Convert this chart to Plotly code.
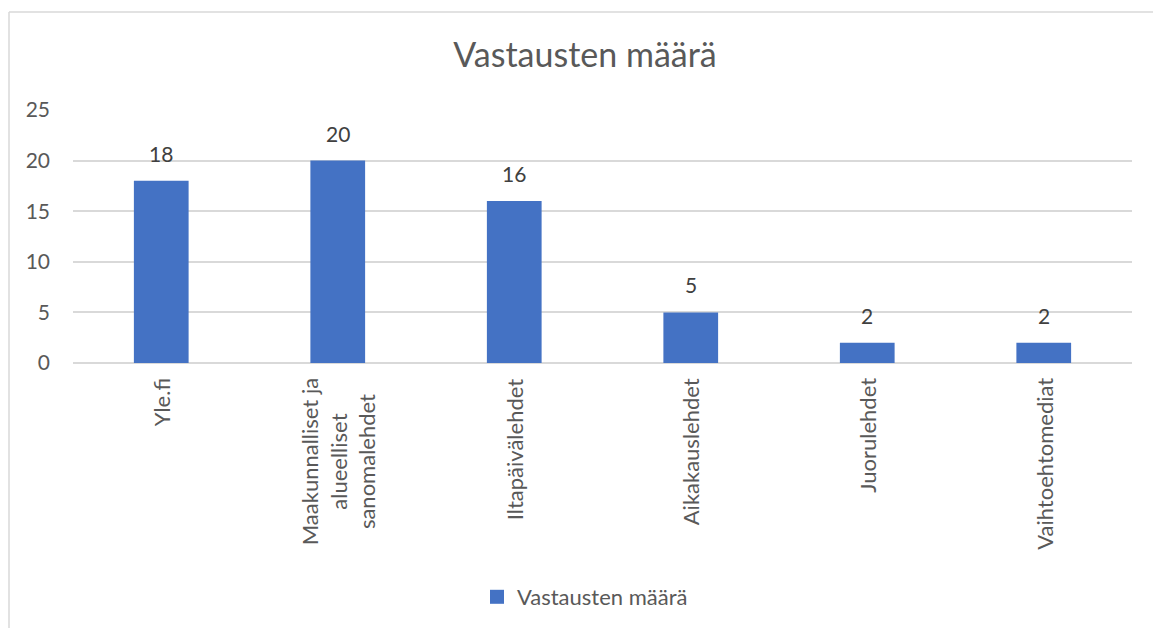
import plotly.graph_objects as go

categories = ["Yle.fi", "Maakunnalliset ja<br>alueelliset<br>sanomalehdet", "Iltapäivälehdet",
              "Aikakauslehdet", "Juorulehdet", "Vaihtoehtomediat"]
values = [18, 20, 16, 5, 2, 2]
series_name = "Vastausten määrä"
title_text = "Vastausten määrä"
y_ticks = [0, 5, 10, 15, 20, 25]

O = 8  # page body offset
W, H = 1161 - O, 628 - O
L, R, T, B = 73 - O, 29, 110 - O, 265
pw = W - L - R
ph = H - T - B

FONT = "Lato"
TXT = "#595959"
BLUE = "#4472C4"

def px_x(p):  # screen px -> paper x
    return (p - O - L) / pw

def px_y(p):  # screen px -> paper y
    return (H - B - (p - O)) / ph

fig = go.Figure()
fig.add_trace(go.Bar(
    x=categories, y=values, name=series_name,
    marker=dict(color=BLUE, line=dict(width=0)),
    showlegend=False,
))
# legend entry with a square swatch like the original
fig.add_trace(go.Scatter(
    x=[None], y=[None], mode="markers", name=series_name,
    marker=dict(symbol="square", size=14, color=BLUE),
    showlegend=True, hoverinfo="skip",
))

for c, v in zip(categories, values):
    fig.add_annotation(x=c, y=v, xref="x", yref="y", text=str(v), showarrow=False,
                       yanchor="bottom", yshift=13,
                       font=dict(family=FONT, size=21, color="#404040"))

for c in categories:
    fig.add_annotation(x=c, y=0, xref="x", yref="y", text=c, showarrow=False,
                       textangle=-90, yanchor="top", xanchor="center", yshift=-13,
                       align="center",
                       font=dict(family=FONT, size=22, color=TXT))

# chart frame (left & top border)
fig.add_shape(type="line", xref="paper", yref="paper",
              x0=px_x(9), x1=px_x(9), y0=px_y(12), y1=px_y(640),
              line=dict(color="#D9D9D9", width=1.5))
fig.add_shape(type="line", xref="paper", yref="paper",
              x0=px_x(9), x1=px_x(1170), y0=px_y(12), y1=px_y(12),
              line=dict(color="#D9D9D9", width=1.5))

fig.update_layout(
    width=W, height=H,
    margin=dict(l=L, r=R, t=T, b=B, autoexpand=False),
    paper_bgcolor="white", plot_bgcolor="white",
    font=dict(family=FONT, color=TXT),
    title=dict(text=title_text, x=(585 - O) / W, xref="container", xanchor="center",
               y=1 - (55 - O) / H, yref="container", yanchor="middle",
               font=dict(family=FONT, size=34, color=TXT)),
    bargap=0.69,
    legend=dict(orientation="h", x=px_x(585), xanchor="center",
                y=px_y(597), yanchor="middle",
                font=dict(family=FONT, size=22, color=TXT),
                itemwidth=30),
    xaxis=dict(showgrid=False, showline=False, zeroline=False,
               showticklabels=False),
    yaxis=dict(range=[0, 25], tickvals=y_ticks, showgrid=True,
               gridcolor="#D9D9D9", gridwidth=1.5, zeroline=True,
               zerolinecolor="#D9D9D9", zerolinewidth=1.5, showline=False,
               ticklabelstandoff=22,
               tickfont=dict(family=FONT, size=21, color=TXT)),
)

fig.write_html("out.html")
